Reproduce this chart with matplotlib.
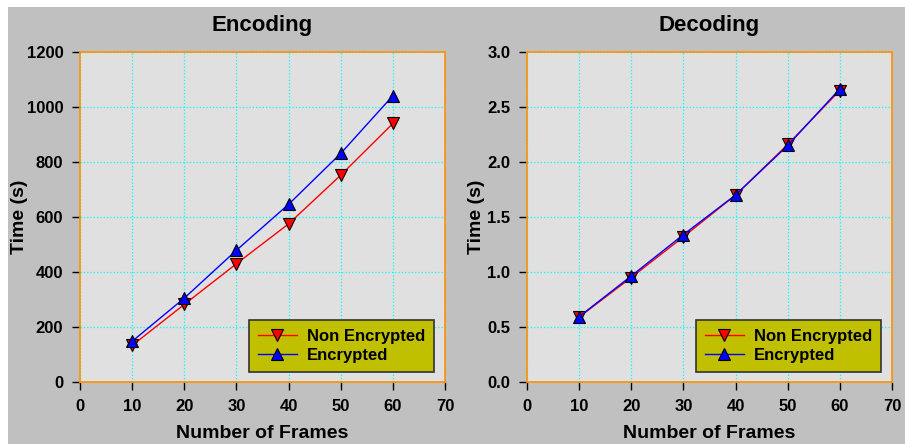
import matplotlib.pyplot as plt
from matplotlib.patches import Rectangle

frames = [10, 20, 30, 40, 50, 60]

enc_non_encrypted = [133, 282, 430, 575, 752, 940]
enc_encrypted = [148, 305, 479, 646, 831, 1041]

dec_non_encrypted = [0.59, 0.95, 1.32, 1.70, 2.16, 2.65]
dec_encrypted = [0.594, 0.964, 1.34, 1.70, 2.15, 2.665]

plt.rcParams["font.family"] = ["Liberation Sans", "DejaVu Sans"]
plt.rcParams["font.weight"] = "bold"

fig = plt.figure(figsize=(9.05, 4.44), dpi=100, facecolor="white")
# gray panel behind both charts
fig.patches.append(
    Rectangle((8 / 905, 0), 1 - 8 / 905, 1 - 7 / 444, transform=fig.transFigure,
              facecolor="#c0c0c0", edgecolor="none", zorder=-10)
)


def draw_panel(ax, title, non_enc, enc, ylim, yticks, yfmt, ylabel_x):
    ax.set_facecolor("#e0e0e0")
    ax.plot(frames, non_enc, color="red", lw=1, marker="v", markersize=8.5,
            markerfacecolor="red", markeredgecolor="black", markeredgewidth=0.8,
            label="Non Encrypted", zorder=3)
    ax.plot(frames, enc, color="blue", lw=1, marker="^", markersize=8.5,
            markerfacecolor="blue", markeredgecolor="black", markeredgewidth=0.8,
            label="Encrypted", zorder=3)
    ax.set_xlim(0, 70)
    ax.set_ylim(*ylim)
    ax.set_xticks(range(0, 71, 10))
    ax.set_xticklabels([str(v) for v in range(0, 71, 10)], fontweight="bold",
                       fontsize=12)
    ax.set_yticks(yticks)
    ax.set_yticklabels([yfmt.format(v) for v in yticks], fontweight="bold",
                       fontsize=12)
    ax.grid(True, color="cyan", linestyle=":", linewidth=0.9)
    ax.set_axisbelow(True)
    for s in ax.spines.values():
        s.set_color("#ff9000")
        s.set_linewidth(1.2)
    ax.tick_params(axis="both", direction="out", length=6, width=1, color="black")
    ax.tick_params(axis="y", pad=6)
    ax.tick_params(axis="x", pad=6)
    ax.set_title(title, fontsize=16, fontweight="bold", pad=15)
    ax.set_xlabel("Number of Frames", fontsize=14, fontweight="bold", labelpad=8)
    ax.set_ylabel("Time (s)", fontsize=14, fontweight="bold")
    ax.yaxis.set_label_coords(ylabel_x, 0.5)
    leg = ax.legend(loc="lower right", bbox_to_anchor=(0.97, 0.03),
                    facecolor="#c0c000", edgecolor="#333333", framealpha=1,
                    fancybox=False, prop={"weight": "bold", "size": 12},
                    handlelength=2.3, handletextpad=0.6, borderpad=0.55,
                    labelspacing=0.25, borderaxespad=0.0)
    leg.get_frame().set_linewidth(1.2)


ax1 = fig.add_axes([80 / 905, 1 - 382 / 444, 365 / 905, 330 / 444])
draw_panel(ax1, "Encoding", enc_non_encrypted, enc_encrypted,
           (0, 1200), list(range(0, 1201, 200)), "{:.0f}", -0.142)

ax2 = fig.add_axes([527 / 905, 1 - 382 / 444, 365 / 905, 330 / 444])
draw_panel(ax2, "Decoding", dec_non_encrypted, dec_encrypted,
           (0, 3.0), [0.0, 0.5, 1.0, 1.5, 2.0, 2.5, 3.0], "{:.1f}", -0.115)

fig.savefig("out.png", dpi=100, facecolor=fig.get_facecolor())
